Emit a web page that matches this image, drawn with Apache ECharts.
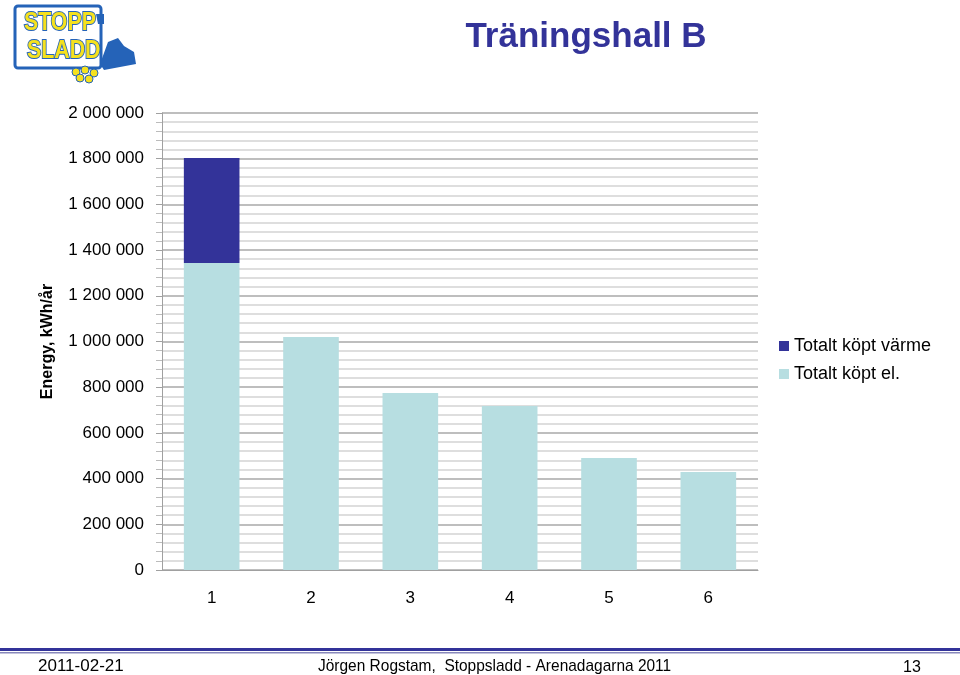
<!DOCTYPE html>
<html>
<head>
<meta charset="utf-8">
<script src="https://cdn.jsdelivr.net/npm/echarts@6/dist/echarts.min.js"></script>
<style>html,body{margin:0;padding:0;background:#fff}#c{width:960px;height:675px}</style>
</head>
<body>
<div id="c"></div>
<script>
const categories = ['1', '2', '3', '4', '5', '6'];
const elValues = [1343000, 1020000, 775000, 718000, 490000, 429000];
const varmeValues = [460000, 0, 0, 0, 0, 0];
const seriesNames = ['Totalt köpt värme', 'Totalt köpt el.'];
const yTicks = { min: 0, max: 2000000, interval: 200000 };

function fmt(v) {
  return String(v).replace(/\B(?=(\d{3})+(?!\d))/g, ' ');
}

const chart = echarts.init(document.getElementById('c'));
const font = "'Liberation Sans', Arial, sans-serif";
chart.setOption({
  animation: false,
  textStyle: { fontFamily: font },
  title: {
    text: 'Träningshall B',
    left: 581, top: 15, textAlign: 'center',
    textStyle: { fontSize: 35, fontWeight: 'bold', color: '#333399', fontFamily: font }
  },
  legend: {
    orient: 'vertical', left: 774, top: 332,
    itemWidth: 10, itemHeight: 10, itemGap: 10, icon: 'rect',
    data: seriesNames,
    textStyle: { fontSize: 18, color: '#000', fontFamily: font }
  },
  grid: { left: 162, right: 202, top: 113, bottom: 105 },
  xAxis: {
    type: 'category', data: categories,
    axisLine: { show: true, lineStyle: { color: '#A0A0A0', width: 1 } },
    axisTick: { show: false },
    axisLabel: { fontSize: 17, color: '#000', margin: 20 }
  },
  yAxis: {
    type: 'value', min: yTicks.min, max: yTicks.max, interval: yTicks.interval,
    name: 'Energy, kWh/år', nameLocation: 'middle', nameGap: 106, nameRotate: 90,
    nameTextStyle: { fontSize: 16, fontWeight: 'bold', color: '#000', fontFamily: font },
    axisLine: { show: true, lineStyle: { color: '#A0A0A0' } },
    axisTick: { show: true, length: 6, lineStyle: { color: '#A0A0A0' } },
    minorTick: { show: true, splitNumber: 5, length: 6, lineStyle: { color: '#BBBBBB' } },
    splitLine: { show: true, lineStyle: { color: '#A8A8A8', width: 1.5 } },
    minorSplitLine: { show: true, lineStyle: { color: '#D4D4D4', width: 1.5 } },
    axisLabel: { fontSize: 17, color: '#000', margin: 18, formatter: fmt, fontFamily: font }
  },
  series: [
    { name: seriesNames[1], type: 'bar', stack: 't', data: elValues, barWidth: '56%',
      itemStyle: { color: '#B7DEE1' } },
    { name: seriesNames[0], type: 'bar', stack: 't', data: varmeValues, barWidth: '56%',
      itemStyle: { color: '#333399' } }
  ],
  graphic: [
    { type: 'rect', shape: { x: 0, y: 648, width: 960, height: 3 }, style: { fill: '#333399' } },
    { type: 'rect', shape: { x: 0, y: 652, width: 960, height: 1.5 }, style: { fill: '#8888BB' } },
    { type: 'text', x: 38, y: 658, style: { text: '2011-02-21', fontSize: 17, fill: '#000', fontFamily: font } },
    { type: 'text', x: 318, y: 658, scaleX: 0.91, style: { text: 'Jörgen Rogstam,  Stoppsladd - Arenadagarna 2011', fontSize: 17, fill: '#000', fontFamily: font } },
    { type: 'text', x: 903, y: 660, style: { text: '13', fontSize: 16, fill: '#000', fontFamily: font } },
    // logo approximation
    { type: 'rect', shape: { x: 15, y: 6, width: 86, height: 62, r: 3 }, style: { fill: 'none', stroke: '#2563B8', lineWidth: 3 } },
    { type: 'text', x: 24, y: 10, scaleX: 0.82, style: { text: 'STOPP', fontSize: 26, fontWeight: 'bold', fill: '#F5E11E', stroke: '#2563B8', lineWidth: 2, fontFamily: font } },
    { type: 'text', x: 27, y: 38, scaleX: 0.82, style: { text: 'SLADD', fontSize: 26, fontWeight: 'bold', fill: '#F5E11E', stroke: '#2563B8', lineWidth: 2, fontFamily: font } },
    { type: 'polygon', shape: { points: [[96, 14], [104, 14], [104, 24], [98, 24]] }, style: { fill: '#2563B8' } },
    { type: 'polygon', shape: { points: [[100, 64], [108, 42], [118, 38], [124, 46], [134, 52], [136, 64], [104, 70]] }, style: { fill: '#2563B8' } },
    { type: 'circle', shape: { cx: 76, cy: 72, r: 4 }, style: { fill: '#F5E11E', stroke: '#2563B8' } },
    { type: 'circle', shape: { cx: 85, cy: 70, r: 4 }, style: { fill: '#F5E11E', stroke: '#2563B8' } },
    { type: 'circle', shape: { cx: 94, cy: 73, r: 4 }, style: { fill: '#F5E11E', stroke: '#2563B8' } },
    { type: 'circle', shape: { cx: 80, cy: 78, r: 4 }, style: { fill: '#F5E11E', stroke: '#2563B8' } },
    { type: 'circle', shape: { cx: 89, cy: 79, r: 4 }, style: { fill: '#F5E11E', stroke: '#2563B8' } }
  ]
});
</script>
</body>
</html>
